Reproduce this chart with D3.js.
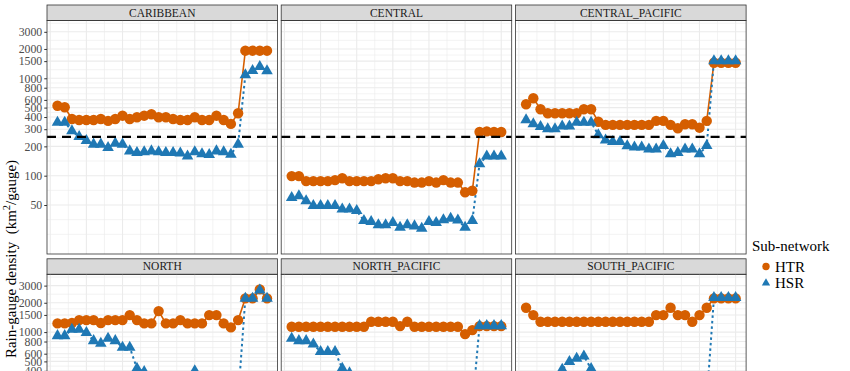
<!DOCTYPE html>
<html>
<head>
<meta charset="utf-8">
<script src="https://cdn.jsdelivr.net/npm/d3@7"></script>
<style>
  body { margin: 0; background: #fff; }
  svg { display: block; font-family: 'Liberation Serif', 'DejaVu Serif', serif; }
</style>
</head>
<body>
<script>
// facet order, as in the picture
const regions = ['CARIBBEAN', 'CENTRAL', 'CENTRAL_PACIFIC', 'NORTH', 'NORTH_PACIFIC', 'SOUTH_PACIFIC']
const steps = d3.range(1, 31)
const series = ['HTR', 'HSR']

const caribbeanHTR = [523, 504, 382, 373, 373, 373, 382, 365, 382, 413, 382, 398, 413, 427, 398, 398, 382, 373, 373, 398, 373, 373, 413, 373, 340, 437, 1920, 1920, 1920, 1920]
const caribbeanHSR = [353, 353, 288, 251, 229, 210, 210, 194, 215, 210, 179, 172, 175, 179, 175, 172, 172, 170, 159, 175, 167, 164, 179, 175, 165, 210, 1081, 1197, 1316, 1190]
const centralHTR = [99, 99, 88, 88, 88, 88, 90, 94, 88, 88, 88, 88, 92, 94, 94, 88, 88, 85, 85, 88, 85, 90, 85, 85, 67.5, 70, 281, 285, 281, 281]
const centralHSR = [59.4, 61.9, 55, 49.2, 49.2, 49.2, 49.2, 45.2, 45.2, 43.7, 34.5, 33.7, 31.2, 31.2, 32.9, 29.5, 31.2, 30.4, 28.8, 33.7, 32.9, 35.1, 36.5, 35, 29.5, 34.5, 132, 159, 159, 159]
const centralPacificHTR = [541, 623, 481, 437, 437, 437, 437, 437, 481, 481, 358, 332, 332, 332, 332, 332, 332, 332, 365, 365, 332, 307, 337, 337, 311, 365, 1445, 1445, 1445, 1445]
const centralPacificHSR = [373, 340, 318, 302, 302, 323, 323, 353, 353, 353, 262, 232, 223, 223, 202, 196, 196, 187, 187, 203, 167, 172, 187, 187, 167, 203, 1506, 1506, 1506, 1506]
const northHTR = [1228, 1228, 1240, 1328, 1328, 1328, 1240, 1328, 1328, 1328, 1495, 1328, 1228, 1228, 1643, 1228, 1228, 1328, 1228, 1228, 1228, 1495, 1495, 1228, 1117, 1328, 2218, 2218, 2742, 2218]
const northHSR = [916, 916, 1066, 1066, 984, 814, 765, 862, 814, 697, 697, 424, 391, 300, 260, 240, 250, 280, 320, 400, 320, 260, 220, 200, 190, 210, 2218, 2218, 2700, 2218]
const northPacificHTR = [1134, 1134, 1134, 1134, 1134, 1134, 1134, 1134, 1134, 1134, 1134, 1276, 1276, 1276, 1276, 1152, 1276, 1134, 1134, 1134, 1134, 1134, 1134, 1134, 954, 1048, 1150, 1150, 1150, 1150]
const northPacificHSR = [862, 814, 814, 753, 628, 628, 628, 424, 380, 330, 300, 280, 260, 240, 230, 220, 210, 200, 200, 190, 190, 180, 180, 175, 170, 170, 1160, 1160, 1160, 1160]
const southPacificHTR = [1777, 1495, 1276, 1276, 1276, 1276, 1276, 1276, 1276, 1276, 1276, 1276, 1276, 1276, 1276, 1276, 1276, 1276, 1495, 1495, 1777, 1495, 1495, 1276, 1495, 1777, 2218, 2218, 2218, 2218]
const southPacificHSR = [250, 240, 230, 260, 320, 414, 496, 537, 567, 420, 300, 250, 220, 210, 200, 200, 195, 190, 190, 200, 195, 190, 190, 185, 190, 200, 2250, 2250, 2250, 2250]

const yBreaks = [50, 100, 200, 300, 400, 500, 600, 800, 1000, 1500, 2000, 3000]
const xBreaks = [0, 5, 10, 15, 20, 25, 30]
const threshold = 250

const table = {
  CARIBBEAN: { HTR: caribbeanHTR, HSR: caribbeanHSR },
  CENTRAL: { HTR: centralHTR, HSR: centralHSR },
  CENTRAL_PACIFIC: { HTR: centralPacificHTR, HSR: centralPacificHSR },
  NORTH: { HTR: northHTR, HSR: northHSR },
  NORTH_PACIFIC: { HTR: northPacificHTR, HSR: northPacificHSR },
  SOUTH_PACIFIC: { HTR: southPacificHTR, HSR: southPacificHSR }
}

const colors = { HTR: '#D55E00', HSR: '#1F78B4' }

const width = 850
const height = 371
const panelW = 230.5
const panelH = 233.5
const stripH = 15.5
const colX = [47, 281.2, 515.6]
const rowY = [5, 258.8] // strip tops

const x = d3.scaleLinear().domain([-0.45, 31.45]).range([0, panelW])
const y = d3.scaleLog().domain([15.7, 3920]).range([panelH, 0])

// minor breaks: midpoints (in log space) between majors, extended one step each side like ggplot
const lb = yBreaks.map(Math.log10)
const ext = [2 * lb[0] - lb[1], ...lb, 2 * lb[lb.length - 1] - lb[lb.length - 2]]
const yMinor = []
for (let i = 0; i < ext.length - 1; i++) {
  yMinor.push(Math.pow(10, (ext[i] + ext[i + 1]) / 2))
}
yMinor.push(Math.pow(10, ext[0]))
const xMinor = d3.range(-2.5, 33, 5)

const svg = d3.select('body').append('svg')
  .attr('width', width)
  .attr('height', height)

svg.append('rect').attr('width', width).attr('height', height).attr('fill', '#fff')

const triangle = d3.symbol().type(d3.symbolTriangle).size(58)

regions.forEach((region, idx) => {
  const col = idx % 3
  const row = Math.floor(idx / 3)
  const left = colX[col]
  const top = rowY[row]

  // strip
  const strip = svg.append('g').attr('transform', 'translate(' + left + ',' + top + ')')
  strip.append('rect')
    .attr('width', panelW).attr('height', stripH)
    .attr('fill', '#D9D9D9').attr('stroke', '#333').attr('stroke-width', 0.8)
  strip.append('text')
    .attr('x', panelW / 2).attr('y', 11.7)
    .attr('text-anchor', 'middle')
    .attr('font-size', 11.5)
    .attr('fill', '#1A1A1A')
    .text(region)

  const g = svg.append('g').attr('transform', 'translate(' + left + ',' + (top + stripH) + ')')
  g.append('clipPath').attr('id', 'clip' + idx)
    .append('rect').attr('width', panelW).attr('height', panelH)

  const grid = g.append('g').attr('clip-path', 'url(#clip' + idx + ')')
  grid.selectAll('.yminor').data(yMinor).enter().append('line')
    .attr('x1', 0).attr('x2', panelW)
    .attr('y1', d => y(d)).attr('y2', d => y(d))
    .attr('stroke', '#EBEBEB').attr('stroke-width', 0.6)
  grid.selectAll('.xminor').data(xMinor).enter().append('line')
    .attr('y1', 0).attr('y2', panelH)
    .attr('x1', d => x(d)).attr('x2', d => x(d))
    .attr('stroke', '#EBEBEB').attr('stroke-width', 0.6)
  grid.selectAll('.ymajor').data(yBreaks).enter().append('line')
    .attr('x1', 0).attr('x2', panelW)
    .attr('y1', d => y(d)).attr('y2', d => y(d))
    .attr('stroke', '#EBEBEB').attr('stroke-width', 1.1)
  grid.selectAll('.xmajor').data(xBreaks).enter().append('line')
    .attr('y1', 0).attr('y2', panelH)
    .attr('x1', d => x(d)).attr('x2', d => x(d))
    .attr('stroke', '#EBEBEB').attr('stroke-width', 1.1)

  const marks = g.append('g').attr('clip-path', 'url(#clip' + idx + ')')
  const line = d3.line()
    .x((d, i) => x(steps[i]))
    .y(d => y(d))

  marks.append('path')
    .datum(table[region].HTR)
    .attr('d', line)
    .attr('fill', 'none')
    .attr('stroke', colors.HTR)
    .attr('stroke-width', 1.6)
  marks.append('path')
    .datum(table[region].HSR)
    .attr('d', line)
    .attr('fill', 'none')
    .attr('stroke', colors.HSR)
    .attr('stroke-width', 2)
    .attr('stroke-dasharray', '2.5,3')

  marks.selectAll('.htr').data(table[region].HTR).enter().append('circle')
    .attr('cx', (d, i) => x(steps[i]))
    .attr('cy', d => y(d))
    .attr('r', 5.2)
    .attr('fill', colors.HTR)
  marks.selectAll('.hsr').data(table[region].HSR).enter().append('path')
    .attr('d', triangle)
    .attr('transform', (d, i) => 'translate(' + x(steps[i]) + ',' + y(d) + ')')
    .attr('fill', colors.HSR)

  marks.append('line')
    .attr('x1', 0).attr('x2', panelW)
    .attr('y1', y(threshold)).attr('y2', y(threshold))
    .attr('stroke', '#000').attr('stroke-width', 2.4)
    .attr('stroke-dasharray', '9,6')

  g.append('rect')
    .attr('width', panelW).attr('height', panelH)
    .attr('fill', 'none').attr('stroke', '#333').attr('stroke-width', 0.8)

  if (col === 0) {
    const axis = d3.axisLeft(y)
      .tickValues(yBreaks)
      .tickFormat(d3.format('d'))
      .tickSize(2.75)
      .tickPadding(2)
    const ax = g.append('g').call(axis)
    ax.select('.domain').remove()
    ax.selectAll('.tick line').attr('stroke', '#333')
    ax.selectAll('.tick text')
      .attr('fill', '#4D4D4D')
      .attr('font-size', 11.8)
      .attr('font-family', "'Liberation Serif', serif")
  }
})

// y axis title
const title = svg.append('text')
  .attr('transform', 'translate(15.5,259) rotate(-90)')
  .attr('text-anchor', 'middle')
  .attr('font-size', 15)
  .attr('fill', '#000')
title.append('tspan').text('Rain-gauge density\u00a0\u00a0(km')
title.append('tspan').attr('dy', -5.5).attr('font-size', 10.5).text('2')
title.append('tspan').attr('dy', 5.5).text('/gauge)')

// legend
const legend = svg.append('g').attr('transform', 'translate(752,0)')
legend.append('text')
  .attr('x', 0).attr('y', 250.5)
  .attr('font-size', 15)
  .text('Sub-network')
legend.append('circle')
  .attr('cx', 14).attr('cy', 266.5).attr('r', 3.7)
  .attr('fill', colors.HTR)
legend.append('path')
  .attr('d', d3.symbol().type(d3.symbolTriangle).size(30))
  .attr('transform', 'translate(14,283)')
  .attr('fill', colors.HSR)
legend.selectAll('.lab').data(series).enter().append('text')
  .attr('x', 23)
  .attr('y', (d, i) => 271.5 + i * 16)
  .attr('font-size', 15)
  .text(d => d)
</script>
</body>
</html>
